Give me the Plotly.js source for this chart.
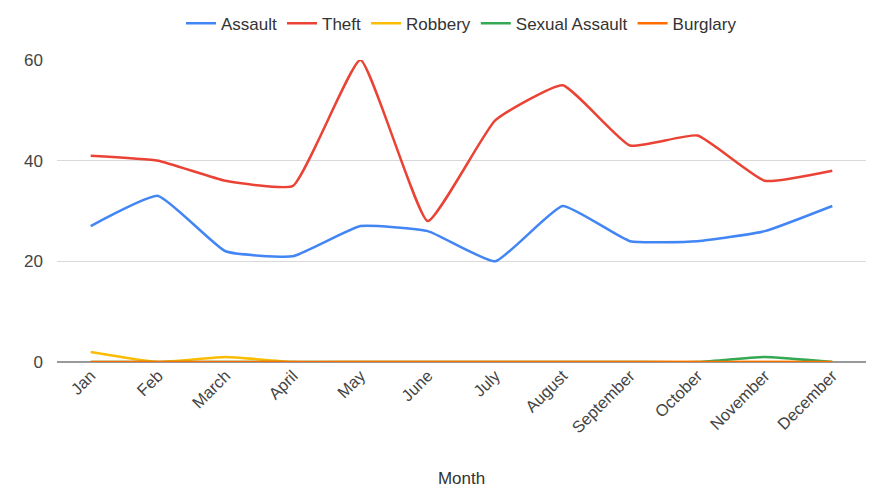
<!DOCTYPE html>
<html>
<head>
<meta charset="utf-8">
<script src="https://cdn.plot.ly/plotly-3.0.1.min.js"></script>
<style>html,body{margin:0;padding:0;background:#fff;}#chart{width:873px;height:490px;}</style>
</head>
<body>
<div id="chart"></div>
<script>
const months = ["Jan","Feb","March","April","May","June","July","August","September","October","November","December"];
const assault = [27,33,22,21,27,26,20,31,24,24,26,31];
const theft = [41,40,36,35,60,28,48,55,43,45,36,38];
const robbery = [2,0,1,0,0,0,0,0,0,0,0,0];
const sexualAssault = [0,0,0,0,0,0,0,0,0,0,1,0];
const burglary = [0,0,0,0,0,0,0,0,0,0,0,0];
const yTicks = [0,20,40,60];

const names = ["Assault","Theft","Robbery","Sexual Assault","Burglary"];
const series = [assault, theft, robbery, sexualAssault, burglary];
const colors = ["#4285F4","#EA4335","#FBBC04","#34A853","#FF6D01"];

const traces = series.map((s,i)=>({
  x: months, y: s, name: names[i], type: "scatter", mode: "lines",
  line: {color: colors[i], width: 2.5, shape: "spline", smoothing: 0.4},
  cliponaxis: false
}));

const layout = {
  width: 873, height: 490,
  margin: {l: 57, r: 7, t: 60, b: 128, autoexpand: false},
  paper_bgcolor: "#fff", plot_bgcolor: "#fff",
  font: {family: "'Liberation Sans', Arial, sans-serif", color: "#444", size: 16},
  showlegend: true,
  legend: {orientation: "h", x: 0.5, xanchor: "center", y: 1.18, yanchor: "top",
    font: {size: 17, color: "#333"}, itemwidth: 30, tracegroupgap: 0},
  xaxis: {type: "category", range: [-0.5, 11.5], showgrid: false, zeroline: false,
    showline: false, ticks: "", tickangle: -45, tickfont: {size: 16.5, color: "#444"},
    title: {text: "Month", font: {size: 17, color: "#333"}, standoff: 36}},
  yaxis: {range: [0, 60], tickvals: yTicks, ticktext: yTicks.map(String),
    showgrid: true, gridcolor: "#d9d9d9", gridwidth: 1, zeroline: true, zerolinecolor: "#999",
    zerolinewidth: 1.5, showline: false, ticks: "", tickfont: {size: 17, color: "#444"},
    ticklabelstandoff: 13}
};

Plotly.newPlot("chart", traces, layout, {displayModeBar: false, staticPlot: true});
</script>
</body>
</html>
